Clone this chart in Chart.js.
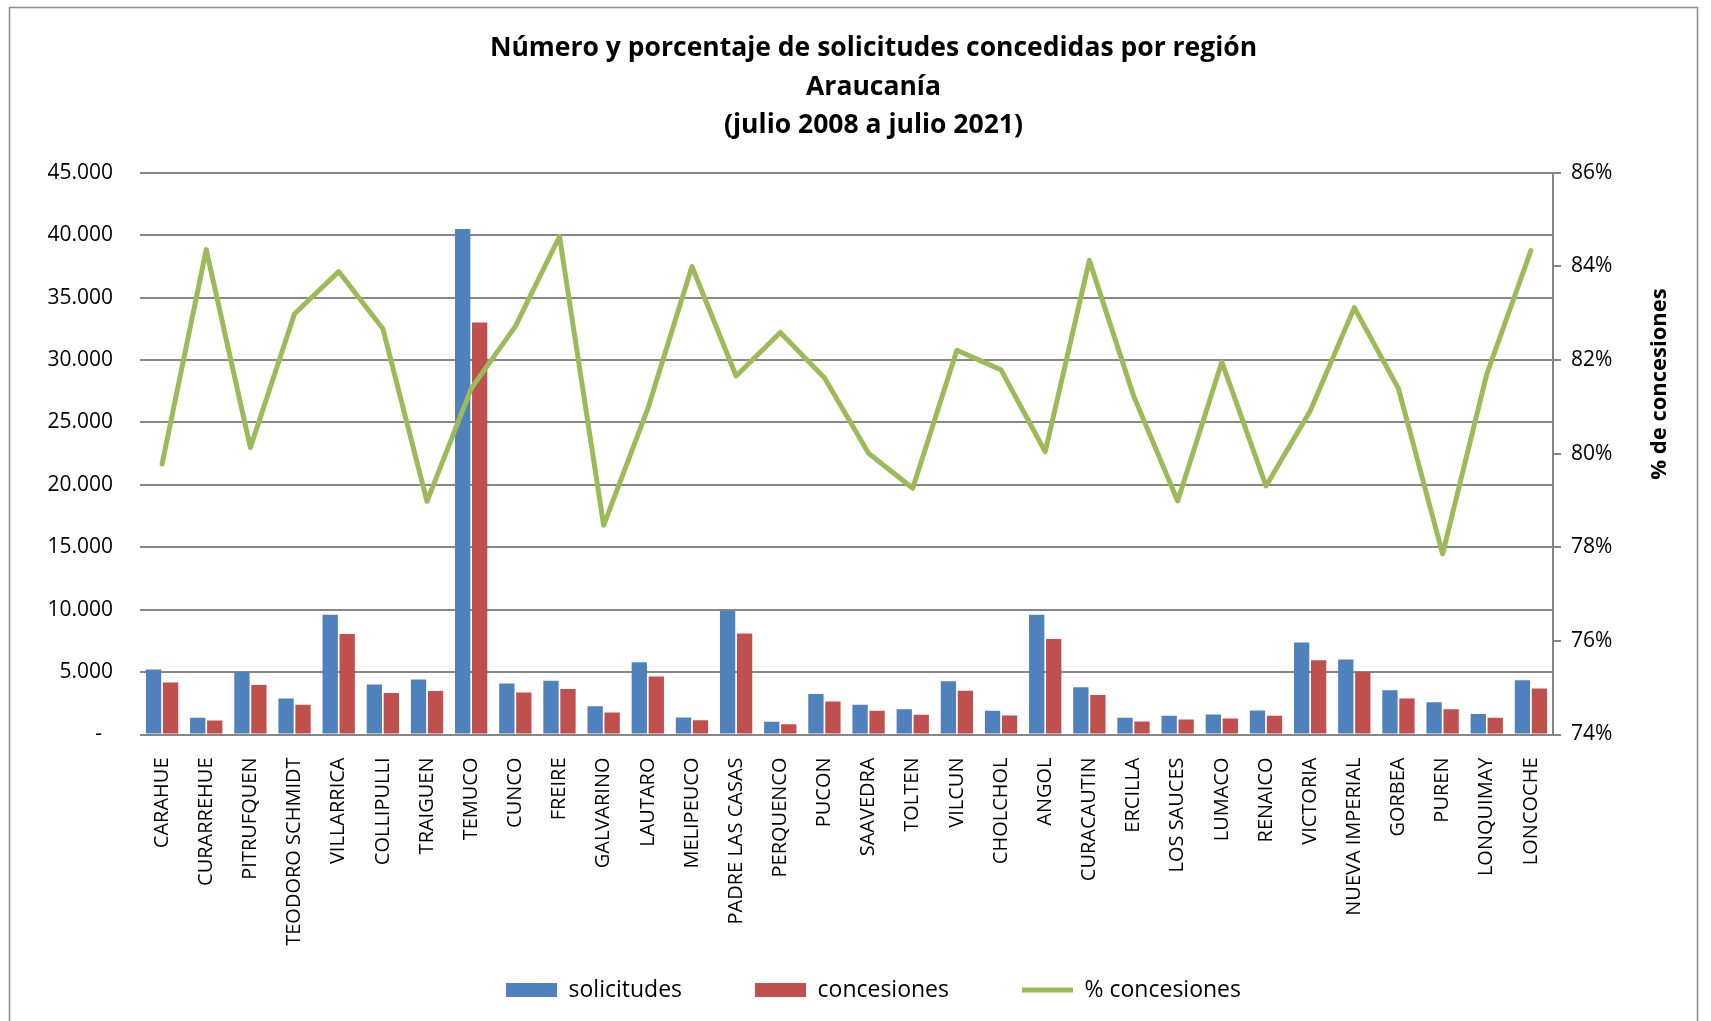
<!DOCTYPE html>
<html>
<head>
<meta charset="utf-8">
<script src="https://cdn.jsdelivr.net/npm/chart.js@4.4.1/dist/chart.umd.min.js"></script>
<style>
  html, body { margin: 0; padding: 0; background: #fff; overflow: hidden; }
</style>
</head>
<body>
<canvas id="myChart" width="1711" height="1021"></canvas>
<script>
// datos
var regiones = ['CARAHUE', 'CURARREHUE', 'PITRUFQUEN', 'TEODORO SCHMIDT', 'VILLARRICA', 'COLLIPULLI',
    'TRAIGUEN', 'TEMUCO', 'CUNCO', 'FREIRE', 'GALVARINO', 'LAUTARO', 'MELIPEUCO', 'PADRE LAS CASAS',
    'PERQUENCO', 'PUCON', 'SAAVEDRA', 'TOLTEN', 'VILCUN', 'CHOLCHOL', 'ANGOL', 'CURACAUTIN', 'ERCILLA',
    'LOS SAUCES', 'LUMACO', 'RENAICO', 'VICTORIA', 'NUEVA IMPERIAL', 'GORBEA', 'PUREN', 'LONQUIMAY', 'LONCOCHE'];

var solicitudes = [5210, 1340, 5000, 2890, 9600, 4010, 4410, 40500, 4090, 4300, 2270, 5780, 1360, 9920,
    1020, 3240, 2390, 2020, 4270, 1910, 9600, 3790, 1340, 1500, 1610, 1930, 7370, 6000, 3550, 2580, 1640, 4350];

var concesiones = [4170, 1120, 3960, 2380, 8050, 3320, 3480, 33000, 3370, 3640, 1770, 4650, 1150, 8100,
    830, 2650, 1910, 1590, 3500, 1530, 7660, 3170, 1050, 1210, 1290, 1500, 5940, 5000, 2880, 2020, 1340, 3680];

var pctConcesiones = [79.78, 84.36, 80.13, 82.99, 83.89, 82.67, 78.98, 81.39, 82.72, 84.64, 78.47, 80.96,
    84.0, 81.66, 82.59, 81.62, 80.01, 79.26, 82.21, 81.79, 80.04, 84.13, 81.24, 78.99, 81.96, 79.31, 80.91,
    83.12, 81.39, 77.86, 81.70, 84.34];

var ticksCantidad = [0, 5000, 10000, 15000, 20000, 25000, 30000, 35000, 40000, 45000];
var ticksPorcentaje = [74, 76, 78, 80, 82, 84, 86];

var titulo = ['Número y porcentaje de solicitudes concedidas por región', 'Araucanía', '(julio 2008 a julio 2021)'];
var tituloEjeDerecho = '% de concesiones';

var gris = '#878787';

function formatoMiles(v) {
    if (v === 0) return '-  ';
    return String(v).replace(/\B(?=(\d{3})+(?!\d))/g, '.');
}

// marco gris alrededor del grafico
var marco = {
    id: 'marco',
    beforeDraw: function(chart) {
        var c = chart.ctx;
        c.save();
        c.strokeStyle = '#8c8c8c';
        c.lineWidth = 1.5;
        c.strokeRect(9.5, 7.5, 1688, 1040);
        c.restore();
    }
};

// titulo del eje derecho, de abajo hacia arriba
var tituloDerecho = {
    id: 'tituloDerecho',
    afterDraw: function(chart) {
        var c = chart.ctx;
        var eje = chart.scales.y1;
        c.save();
        c.translate(eje.left + 107, 384);
        c.rotate(-Math.PI / 2);
        c.font = 'bold 22px "Open Sans"';
        c.fillStyle = '#000';
        c.textAlign = 'center';
        c.textBaseline = 'middle';
        c.fillText(tituloEjeDerecho, 0, 0);
        c.restore();
    }
};

var ctx = document.getElementById('myChart').getContext('2d');
var chart = new Chart(ctx, {
    type: 'bar',
    data: {
        labels: regiones,
        datasets: [{
            label: 'solicitudes',
            data: solicitudes,
            backgroundColor: '#4F81BD',
            borderWidth: 0,
            pointStyle: 'rect',
            yAxisID: 'y',
            order: 1
        }, {
            label: 'concesiones',
            data: concesiones,
            backgroundColor: '#C0504D',
            borderWidth: 0,
            pointStyle: 'rect',
            yAxisID: 'y',
            order: 1
        }, {
            type: 'line',
            label: '% concesiones',
            data: pctConcesiones,
            borderColor: '#9BBB59',
            backgroundColor: '#9BBB59',
            borderWidth: 5,
            borderJoinStyle: 'round',
            borderCapStyle: 'round',
            pointRadius: 0,
            pointHoverRadius: 0,
            pointStyle: 'line',
            tension: 0,
            yAxisID: 'y1',
            order: 0
        }]
    },
    options: {
        responsive: false,
        animation: false,
        layout: {
            padding: { left: 36, right: 0, top: 0, bottom: 9.5 }
        },
        datasets: {
            bar: { categoryPercentage: 0.77, barPercentage: 0.9 }
        },
        plugins: {
            title: {
                display: true,
                text: titulo,
                color: '#000',
                font: { family: '"Open Sans"', size: 26.5, weight: 'bold', lineHeight: 1.457 },
                padding: { top: 29.2, bottom: 27.8 }
            },
            legend: {
                position: 'bottom',
                labels: {
                    usePointStyle: true,
                    pointStyleWidth: 51,
                    boxHeight: 14,
                    padding: 73,
                    color: '#000',
                    font: { family: '"Open Sans"', size: 23 },
                    sort: function(a, b) { return a.datasetIndex - b.datasetIndex; }
                }
            },
            tooltip: { enabled: false }
        },
        scales: {
            x: {
                grid: { display: false, drawTicks: false },
                border: { display: false },
                ticks: {
                    autoSkip: false,
                    minRotation: 90,
                    maxRotation: 90,
                    padding: 23,
                    color: '#000',
                    font: { family: '"Open Sans"', size: 20 }
                },
                afterFit: function(scale) {
                    scale.height = 171;
                    // las etiquetas largas pasan por debajo del eje; que no se recorten
                    scale._computeLabelArea = function() { return null; };
                }
            },
            y: {
                position: 'left',
                min: 0,
                max: 45000,
                afterBuildTicks: function(scale) {
                    scale.ticks = ticksCantidad.map(function(v) { return { value: v }; });
                },
                grid: { color: gris, lineWidth: 2, drawTicks: false },
                border: { display: false },
                ticks: {
                    padding: 27,
                    color: '#000',
                    font: { family: '"Open Sans"', size: 21 },
                    callback: function(v) { return formatoMiles(v); }
                },
                afterFit: function(scale) { scale.width = 104; }
            },
            y1: {
                position: 'right',
                min: 74,
                max: 86,
                afterBuildTicks: function(scale) {
                    scale.ticks = ticksPorcentaje.map(function(v) { return { value: v }; });
                },
                grid: { drawOnChartArea: false, drawTicks: true, tickLength: 8, color: gris, lineWidth: 2 },
                border: { display: true, color: gris, width: 2 },
                ticks: {
                    padding: 10,
                    color: '#000',
                    font: { family: '"Open Sans"', size: 21 },
                    callback: function(v) { return v + '%'; }
                },
                afterFit: function(scale) { scale.width = 158; }
            }
        }
    },
    plugins: [marco, tituloDerecho]
});
</script>
</body>
</html>
